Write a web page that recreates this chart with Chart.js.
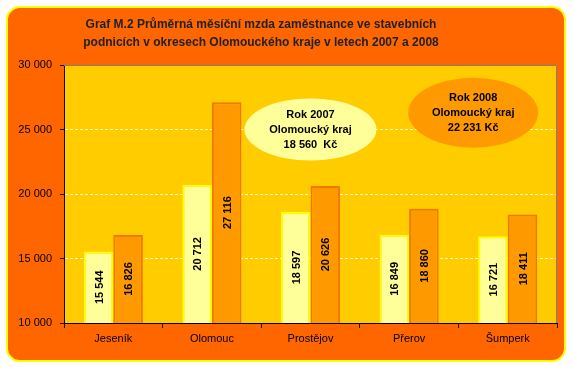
<!DOCTYPE html>
<html>
<head>
<meta charset="utf-8">
<script src="https://cdn.jsdelivr.net/npm/chart.js@4.4.1/dist/chart.umd.min.js"></script>
<style>
  body { margin: 0; background: #ffffff; }
  canvas { display: block; }
</style>
</head>
<body>
<canvas id="chartMzda" width="573" height="367"></canvas>
<script>
// okresy a mzdy
const okresy = ["Jeseník", "Olomouc", "Prostějov", "Přerov", "Šumperk"];
const mzdy2007 = [15544, 20712, 18597, 16849, 16721];
const mzdy2008 = [16826, 27116, 20626, 18860, 18411];

const yTicks = [10000, 15000, 20000, 25000, 30000];

const titleLines = [
  "Graf M.2 Průměrná měsíční mzda zaměstnance ve stavebních",
  "podnicích v okresech Olomouckého kraje v letech 2007 a 2008",
];

// texty v elipsách
const note2007 = ["Rok 2007", "Olomoucký kraj", "18 560  Kč"];
const note2008 = ["Rok 2008", "Olomoucký kraj", "22 231 Kč"];

const font = "'Liberation Sans', Arial, sans-serif";

// formát s mezerou mezi tisíci
function fmt(v) {
  return String(v).replace(/\B(?=(\d{3})+(?!\d))/g, " ");
}

// pozadí – oranžový rámeček, nadpis a žlutá plocha grafu
const pozadi = {
  id: "pozadi",
  beforeDraw(chart) {
    const ctx = chart.ctx;
    const a = chart.chartArea;
    ctx.save();
    ctx.fillStyle = "#ffffff";
    ctx.fillRect(0, 0, chart.width, chart.height);
    ctx.beginPath();
    ctx.roundRect(7, 7, 558, 354, 13);
    ctx.fillStyle = "#FF6600";
    ctx.fill();
    ctx.lineWidth = 2;
    ctx.strokeStyle = "#FFFF00";
    ctx.stroke();
    ctx.fillStyle = "#FFCC00";
    ctx.fillRect(a.left, a.top, a.right - a.left, a.bottom - a.top);

    // nadpis
    ctx.fillStyle = "#222222";
    ctx.font = "bold 12px " + font;
    ctx.textAlign = "center";
    ctx.textBaseline = "middle";
    titleLines.forEach((t, i) => ctx.fillText(t, 261, 25 + i * 18));
    ctx.restore();
  },
  afterDraw(chart) {
    const ctx = chart.ctx;
    const a = chart.chartArea;
    ctx.save();
    ctx.strokeStyle = "#808080";
    ctx.lineWidth = 1;
    ctx.beginPath();
    ctx.moveTo(a.left, a.top + 0.5);
    ctx.lineTo(a.right - 0.5, a.top + 0.5);
    ctx.lineTo(a.right - 0.5, a.bottom);
    ctx.stroke();
    ctx.restore();
  },
};

// svislé popisky hodnot uprostřed sloupců + elipsy
const popisky = {
  id: "popisky",
  beforeDatasetsDraw(chart) {
    const ctx = chart.ctx;
    const xs = chart.scales.x;
    const ys = chart.scales.y;
    const step = xs.getPixelForValue(1) - xs.getPixelForValue(0);

    function elipsa(cx, cy, rx, ry, fill, lines) {
      ctx.save();
      ctx.beginPath();
      ctx.ellipse(cx, cy, rx, ry, 0, 0, Math.PI * 2);
      ctx.fillStyle = fill;
      ctx.fill();
      ctx.fillStyle = "#000000";
      ctx.font = "bold 11px " + font;
      ctx.textAlign = "center";
      ctx.textBaseline = "middle";
      lines.forEach((t, i) => ctx.fillText(t, cx, cy + (i - 1) * 15));
      ctx.restore();
    }

    elipsa(xs.getPixelForValue(2), ys.getPixelForValue(25000), 66, 31, "#FFFF99", note2007);
    elipsa(xs.getPixelForValue(3) + step * 0.65, ys.getPixelForValue(26300), 65, 35, "#FF9900", note2008);
  },
  afterDatasetsDraw(chart) {
    const ctx = chart.ctx;
    const bottom = chart.chartArea.bottom;
    ctx.save();
    ctx.fillStyle = "#000000";
    ctx.font = "bold 11px " + font;
    ctx.textAlign = "center";
    ctx.textBaseline = "middle";
    chart.data.datasets.forEach((ds, di) => {
      chart.getDatasetMeta(di).data.forEach((bar, i) => {
        const cy = (bar.y + Math.min(bar.base, bottom)) / 2;
        ctx.save();
        ctx.translate(bar.x + 1, cy);
        ctx.rotate(-Math.PI / 2);
        ctx.fillText(fmt(ds.data[i]), 0, 0);
        ctx.restore();
      });
    });
    ctx.restore();
  },
};

const data = {
  labels: okresy,
  datasets: [
    {
      label: "2007",
      data: mzdy2007,
      backgroundColor: "#FFFF99",
      borderColor: "#FFFF00",
      borderWidth: 2,
      borderSkipped: "bottom",
    },
    {
      label: "2008",
      data: mzdy2008,
      backgroundColor: "#FF9900",
      borderColor: "#F07800",
      borderWidth: 2,
      borderSkipped: "bottom",
    },
  ],
};

const config = {
  type: "bar",
  data,
  plugins: [pozadi, popisky],
  options: {
    responsive: false,
    animation: false,
    devicePixelRatio: 1,
    layout: {
      padding: { left: 0, right: 16, top: 65, bottom: 0 },
    },
    datasets: {
      bar: {
        categoryPercentage: 0.6,
        barPercentage: 1.0,
      },
    },
    plugins: {
      legend: { display: false },
      tooltip: { enabled: false },
    },
    scales: {
      x: {
        afterFit: (scale) => {
          scale.height = 44;
        },
        grid: {
          drawOnChartArea: false,
          tickColor: "#000000",
          tickLength: 5,
          offset: true,
        },
        border: { color: "#000000", width: 1 },
        ticks: {
          color: "#000000",
          padding: 4,
          font: { family: font, size: 11 },
        },
      },
      y: {
        min: 10000,
        max: 30000,
        afterFit: (scale) => {
          scale.width = 64;
        },
        afterBuildTicks: (axis) => (axis.ticks = yTicks.map((v) => ({ value: v }))),
        grid: {
          color: (c) => (c.tick && (c.tick.value === 30000 || c.tick.value === 10000) ? "rgba(0,0,0,0)" : "#FFFFCC"),
          tickColor: "#000000",
          tickLength: 4,
        },
        border: { color: "#000000", width: 1, dash: [3, 2] },
        ticks: {
          color: "#000000",
          padding: 8,
          font: { family: font, size: 11 },
          callback: (v) => fmt(v),
        },
      },
    },
  },
};

const canvas = document.getElementById("chartMzda");
const myChart = new Chart(canvas, config);
</script>
</body>
</html>
